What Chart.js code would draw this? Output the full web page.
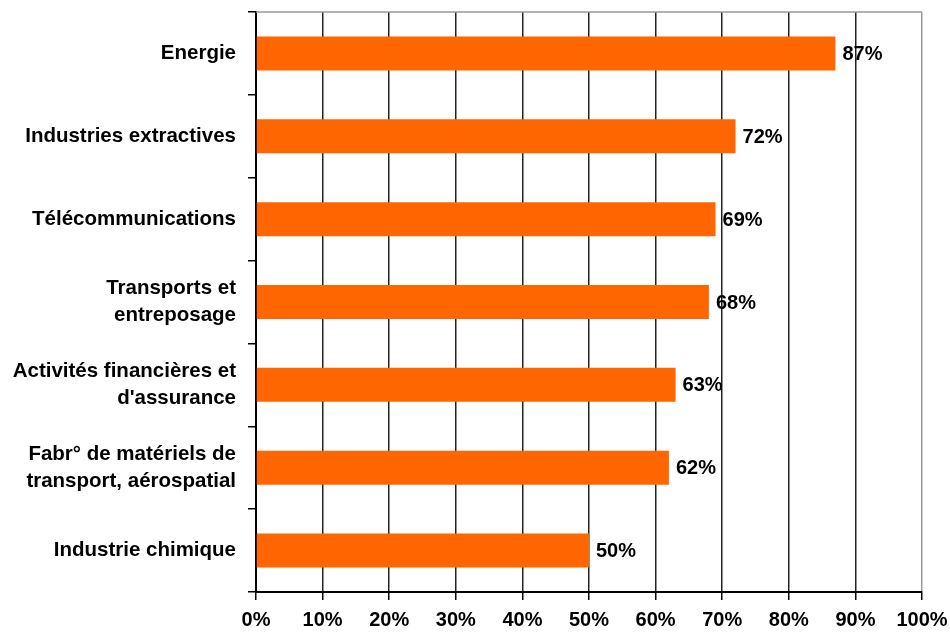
<!DOCTYPE html>
<html>
<head>
<meta charset="utf-8">
<script src="https://cdn.jsdelivr.net/npm/chart.js@4"></script>
<style>
  body { margin: 0; background: #fff; }
  #wrap { position: relative; width: 950px; height: 636px; }
</style>
</head>
<body>
<div id="wrap"><canvas id="barChart" width="950" height="636"></canvas></div>
<script>
// Données
var secteurs = [
    'Energie',
    'Industries extractives',
    'Télécommunications',
    ['Transports et', 'entreposage'],
    ['Activités financières et', "d'assurance"],
    ['Fabr° de matériels de', 'transport, aérospatial'],
    'Industrie chimique'
];
var parts = [87, 72, 69, 68, 63, 62, 50];
var ticksX = [0, 10, 20, 30, 40, 50, 60, 70, 80, 90, 100];

var police = "'Liberation Sans', Arial, sans-serif";

// Étiquettes de valeur au bout des barres + bordure haute grise
var etiquettes = {
    id: 'etiquettes',
    afterDatasetsDraw: function(chart) {
        var ctx = chart.ctx;
        var meta = chart.getDatasetMeta(0);
        ctx.save();
        ctx.font = 'bold 20px ' + police;
        ctx.fillStyle = '#000';
        ctx.textAlign = 'left';
        ctx.textBaseline = 'middle';
        meta.data.forEach(function(bar, i) {
            ctx.fillText(parts[i] + '%', bar.x + 7, bar.y + 1);
        });
        var a = chart.chartArea;
        ctx.strokeStyle = '#999';
        ctx.lineWidth = 1.5;
        ctx.beginPath();
        ctx.moveTo(a.left, a.top);
        ctx.lineTo(a.right, a.top);
        ctx.stroke();
        ctx.restore();
    }
};

var ctx = document.getElementById('barChart').getContext('2d');
var barChart = new Chart(ctx, {
    type: 'bar',
    data: {
        labels: secteurs,
        datasets: [{
            data: parts,
            backgroundColor: '#FF6600',
            borderWidth: 0,
            barPercentage: 0.41,
            categoryPercentage: 1
        }]
    },
    options: {
        indexAxis: 'y',
        responsive: false,
        animation: false,
        layout: { padding: { top: 12, right: 28, left: 0, bottom: 0 } },
        plugins: {
            legend: { display: false },
            tooltip: { enabled: false }
        },
        scales: {
            x: {
                min: 0,
                max: 100,
                afterBuildTicks: function(scale) {
                    scale.ticks = ticksX.map(function(v) { return { value: v }; });
                },
                afterFit: function(scale) {
                    scale.height = 44;
                    scale.paddingLeft = 0;
                    scale.paddingRight = 0;
                },
                border: { color: '#000', width: 2 },
                grid: {
                    color: function(c) { return c.tick && c.tick.value === 100 ? '#999' : '#222'; },
                    lineWidth: 1.5,
                    tickLength: 8,
                    tickColor: '#000'
                },
                ticks: {
                    color: '#000',
                    padding: 8,
                    maxRotation: 0,
                    font: { family: police, size: 20, weight: 'bold' },
                    callback: function(v) { return v + '%'; }
                }
            },
            y: {
                afterFit: function(scale) {
                    scale.width = 256;
                    scale.paddingTop = 0;
                    scale.paddingBottom = 0;
                },
                border: { color: '#000', width: 2 },
                grid: {
                    offset: true,
                    drawOnChartArea: false,
                    tickLength: 8,
                    tickColor: '#000',
                    lineWidth: 1.5
                },
                ticks: {
                    color: '#000',
                    padding: 12,
                    font: { family: police, size: 20.5, weight: 'bold', lineHeight: 1.3 }
                }
            }
        }
    },
    plugins: [etiquettes]
});
</script>
</body>
</html>
